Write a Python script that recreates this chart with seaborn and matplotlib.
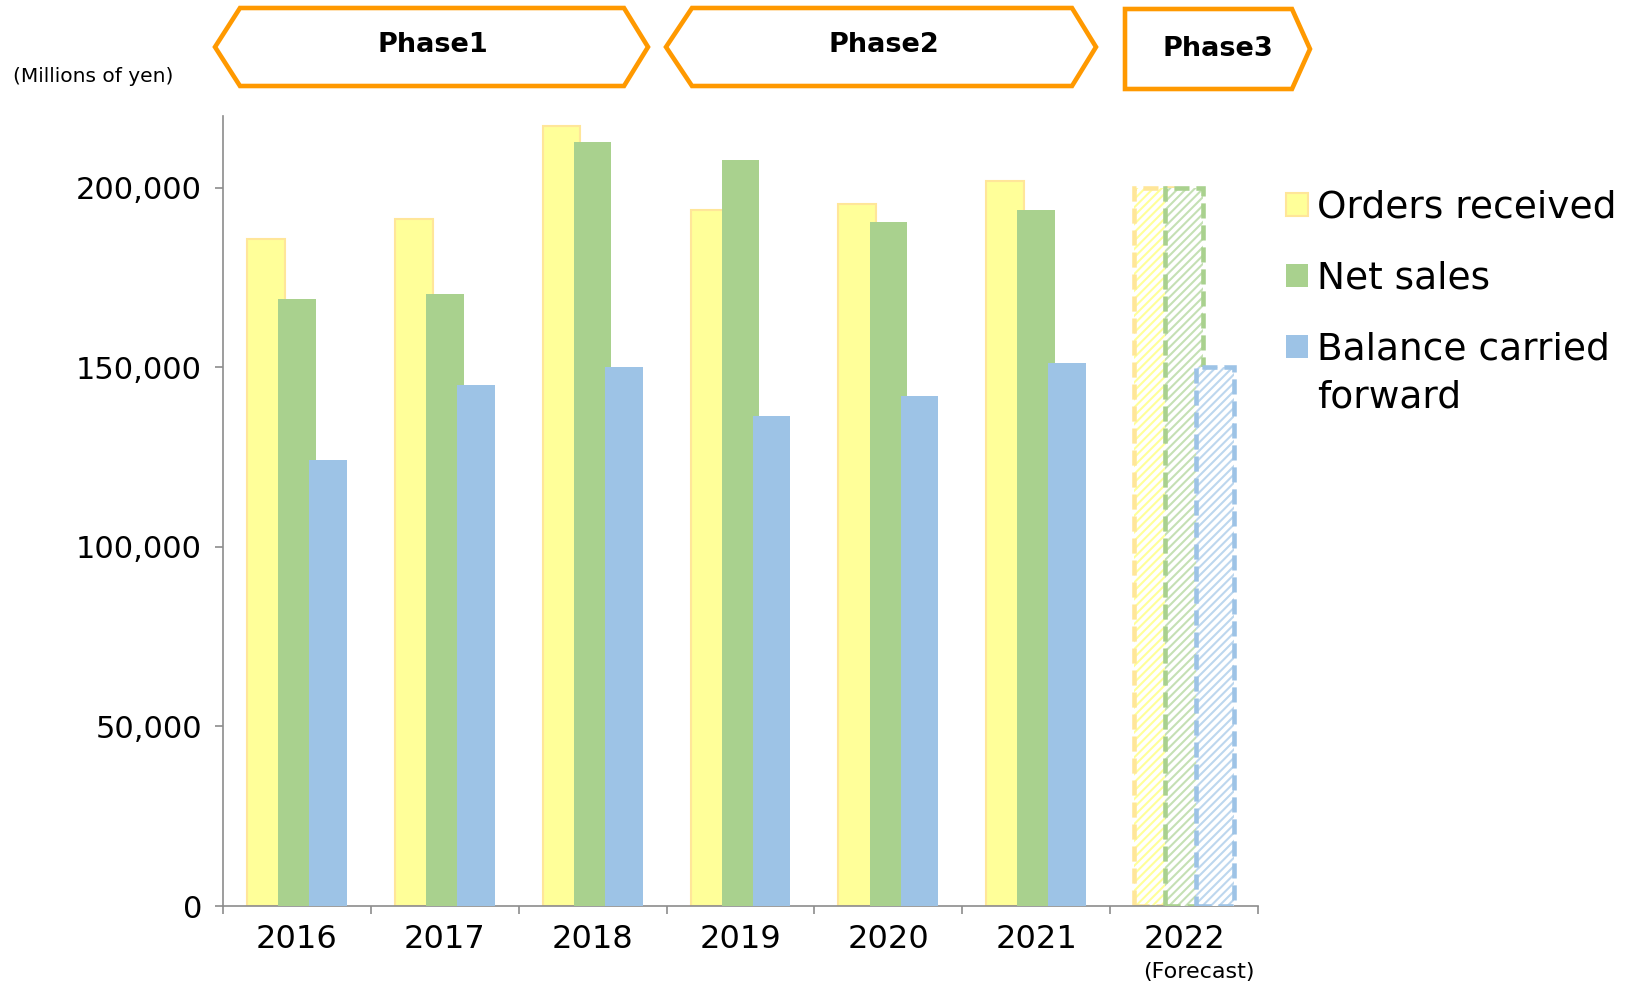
import matplotlib
matplotlib.use("Agg")
import matplotlib.pyplot as plt
import seaborn as sns
import pandas as pd
import numpy as np
from matplotlib.patches import Polygon, Rectangle
from matplotlib.ticker import FuncFormatter, FixedLocator
import matplotlib.transforms as mtransforms

# ---------------- data ----------------
years = ["2016", "2017", "2018", "2019", "2020", "2021", "2022"]
orders_received = [185800, 191300, 217100, 193900, 195600, 202000, 200000]
net_sales = [168900, 170400, 212800, 207800, 190400, 193900, 200000]
balance_carried_forward = [124200, 145100, 150100, 136400, 141900, 151200, 150000]
series_names = ["Orders received", "Net sales", "Balance carried forward"]
legend_labels = ["Orders received", "Net sales", "Balance carried"]
legend_extra = "forward"
phase_labels = ["Phase1", "Phase2", "Phase3"]
y_ticks = [0, 50000, 100000, 150000, 200000]
forecast_note = "(Forecast)"
unit_label = "(Millions of yen)"

# ---------------- style ----------------
fill_colors = ["#FFFF99", "#A9D18E", "#9DC3E6"]
edge_colors = ["#FFE699", "#A9D18E", "#9DC3E6"]
hatch_colors = ["#FFFF99", "#C5E0B4", "#BDD7EE"]
dash_colors = ["#FFE699", "#A9D18E", "#9DC3E6"]
orange = "#FF9900"
axis_gray = "#8C8C8C"

sns.set_theme(style="white")
plt.rcParams["font.family"] = ["DejaVu Sans"]
plt.rcParams["hatch.linewidth"] = 1.5
plt.rcParams["text.color"] = "black"

W, H = 1640, 983
AX_L, AX_R, AX_B, AX_T = 223, 1258, 906, 116
fig = plt.figure(figsize=(W / 100, H / 100), dpi=100)
ax = fig.add_axes([AX_L / W, 1 - AX_B / H, (AX_R - AX_L) / W, (AX_B - AX_T) / H])

df = pd.DataFrame({
    "year": years * 3,
    "series": sum([[s] * len(years) for s in series_names], []),
    "value": orders_received + net_sales + balance_carried_forward,
})

sns.barplot(data=df, x="year", y="value", hue="series", hue_order=series_names,
            palette=fill_colors, saturation=1, width=0.63, errorbar=None,
            legend=False, ax=ax)

bar_w = 0.255
forecast_idx = len(years) - 1
for i, cont in enumerate(ax.containers):
    for j, bar in enumerate(cont.patches):
        cx = bar.get_x() + bar.get_width() / 2
        bar.set_x(cx - bar_w / 2)
        bar.set_width(bar_w)
        bar.set_zorder(2 + i)
        if j == forecast_idx:
            bar.set_facecolor("white")
            bar.set_hatch("////")
            bar.set_edgecolor(hatch_colors[i])
            bar.set_linewidth(0)
            outline = Rectangle((bar.get_x(), 0), bar.get_width(), bar.get_height(),
                                fill=False, edgecolor=dash_colors[i], linewidth=3.3,
                                linestyle=(0, (3.3, 1.5)), zorder=2.5 + i)
            ax.add_patch(outline)
        else:
            if i == 0:
                bar.set_edgecolor(edge_colors[i])
                bar.set_linewidth(1.5)
            else:
                bar.set_linewidth(0)

# ---------------- axes ----------------
ax.set_xlim(-0.5, len(years) - 0.5)
ax.set_ylim(0, 220000)
ax.set_xlabel("")
ax.set_ylabel("")
for s in ["top", "right"]:
    ax.spines[s].set_visible(False)
for s in ["left", "bottom"]:
    ax.spines[s].set_color(axis_gray)
    ax.spines[s].set_linewidth(1.2)

ax.yaxis.set_major_locator(FixedLocator(y_ticks))
ax.yaxis.set_major_formatter(FuncFormatter(lambda v, p: f"{int(v):,}"))
ax.tick_params(axis="y", which="major", left=True, length=6, width=1.2,
               color=axis_gray, labelsize=22, pad=9, labelcolor="black")
ax.xaxis.set_minor_locator(FixedLocator(np.arange(-0.5, len(years), 1.0)))
ax.tick_params(axis="x", which="major", bottom=True, length=0, labelsize=23,
               pad=13, labelcolor="black")
ax.tick_params(axis="x", which="minor", bottom=True, length=6, width=1.2,
               color=axis_gray)
ax.grid(False)

# forecast note under 2022
trans = mtransforms.blended_transform_factory(ax.transData, fig.transFigure)
fig.text(forecast_idx + 0.1, 1 - 972 / H, forecast_note, transform=trans,
         ha="center", va="center", fontsize=16, color="black")

# unit label
fig.text(13 / W, 1 - 77 / H, unit_label, ha="left", va="center", fontsize=14.5,
         color="black")

# ---------------- phase banners ----------------
def px(pts):
    return [(x / W, 1 - y / H) for x, y in pts]

phase_shapes = [
    [(215, 47), (240, 8), (624, 8), (648, 47), (624, 86), (240, 86)],
    [(666, 47), (692, 8), (1072, 8), (1096, 47), (1072, 86), (692, 86)],
    [(1125, 9), (1292, 9), (1310, 49), (1292, 89), (1125, 89)],
]
phase_text_pos = [(433, 45), (884, 45), (1218, 49)]
for shape, label, (tx, ty) in zip(phase_shapes, phase_labels, phase_text_pos):
    poly = Polygon(px(shape), closed=True, transform=fig.transFigure,
                   facecolor="white", edgecolor=orange, linewidth=3.3,
                   joinstyle="miter")
    fig.add_artist(poly)
    fig.text(tx / W, 1 - ty / H, label, ha="center", va="center",
             fontsize=19.5, fontweight="bold", color="black")

# ---------------- legend ----------------
handles = [c.patches[0] for c in ax.containers]
leg = fig.legend(handles, legend_labels, loc="upper left",
                 bbox_to_anchor=(1286 / W, 1 - 190 / H),
                 bbox_transform=fig.transFigure, frameon=False, fontsize=27,
                 handlelength=0.58, handleheight=0.58, handletextpad=0.25,
                 labelspacing=0.93, borderpad=0, borderaxespad=0,
                 labelcolor="black")

fig.canvas.draw()
bb = leg.get_texts()[2].get_window_extent(renderer=fig.canvas.get_renderer())
fig.text(bb.x0 / W, (bb.y0 - 48) / H, legend_extra, ha="left", va="bottom",
         fontsize=27, color="black")

fig.savefig("out.png", dpi=100)
